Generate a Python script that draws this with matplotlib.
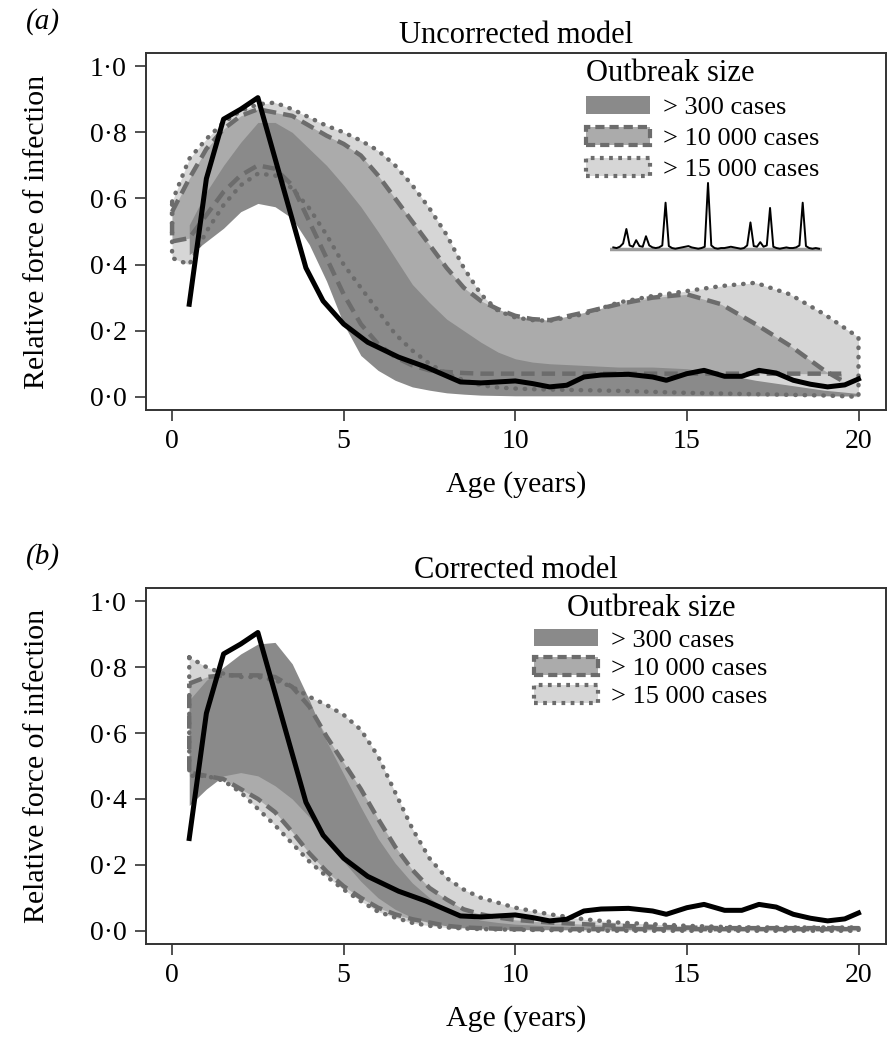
import matplotlib
matplotlib.use('Agg')
import matplotlib.pyplot as plt
from matplotlib.patches import Patch

plt.rcParams['font.family'] = ['Liberation Serif', 'DejaVu Serif']

# observed force of infection (same curve in both panels)
obs_age = [0.5, 1.0, 1.5, 2.0, 2.5, 3.9, 4.4, 5.0, 5.7, 6.6, 7.4, 8.4, 9.0, 10.0, 10.5, 11.0, 11.5,
           12.0, 12.5, 13.3, 14.0, 14.4, 15.0, 15.5, 16.1, 16.6, 17.1, 17.6, 18.1, 18.6, 19.1, 19.6, 20.0]
obs_foi = [0.28, 0.66, 0.84, 0.87, 0.905, 0.39, 0.29, 0.22, 0.165, 0.12, 0.09, 0.045, 0.042, 0.048, 0.04,
           0.03, 0.035, 0.06, 0.066, 0.068, 0.06, 0.05, 0.07, 0.08, 0.062, 0.062, 0.08, 0.072, 0.05, 0.038,
           0.03, 0.036, 0.054]

# (a) uncorrected model bands
a15_age = [0, 0.5, 1, 1.5, 2, 2.5, 3, 3.5, 4, 4.5, 5, 5.5, 6, 6.5, 7, 7.5, 8, 8.5, 9, 9.5, 10,
           10.5, 11, 12, 13, 14, 15, 16, 17, 18, 19, 20]
a15_hi = [0.59, 0.72, 0.78, 0.83, 0.865, 0.885, 0.89, 0.87, 0.845, 0.82, 0.80, 0.775, 0.745, 0.70,
          0.64, 0.57, 0.49, 0.39, 0.31, 0.26, 0.24, 0.232, 0.23, 0.25, 0.285, 0.305, 0.32, 0.335,
          0.345, 0.31, 0.25, 0.18]
a15_lo = [0.42, 0.40, 0.50, 0.58, 0.64, 0.675, 0.67, 0.63, 0.57, 0.49, 0.40, 0.33, 0.26, 0.19,
          0.14, 0.10, 0.07, 0.05, 0.035, 0.028, 0.025, 0.023, 0.022, 0.02, 0.018, 0.015, 0.012,
          0.01, 0.008, 0.006, 0.004, 0.0]

a10_age = [0, 0.5, 1, 1.5, 2, 2.5, 3, 3.5, 4, 4.5, 5, 5.5, 6, 6.5, 7, 7.5, 8, 8.5, 9, 9.5, 10,
           10.5, 11, 12, 13, 14, 15, 16, 17, 18, 19, 19.5]
a10_hi = [0.56, 0.66, 0.75, 0.81, 0.85, 0.87, 0.86, 0.85, 0.82, 0.79, 0.765, 0.73, 0.67, 0.60,
          0.53, 0.46, 0.39, 0.33, 0.29, 0.265, 0.245, 0.235, 0.232, 0.255, 0.28, 0.30, 0.31,
          0.28, 0.22, 0.155, 0.08, 0.05]
a10_lo = [0.47, 0.48, 0.55, 0.62, 0.67, 0.70, 0.69, 0.64, 0.53, 0.42, 0.31, 0.22, 0.16, 0.12,
          0.095, 0.08, 0.075, 0.072, 0.07, 0.07, 0.07, 0.07, 0.07, 0.07, 0.07, 0.07, 0.07, 0.07,
          0.07, 0.07, 0.07, 0.07]

a3_age = [0.5, 1, 1.5, 2, 2.5, 3, 3.5, 4, 4.5, 5, 5.5, 6, 6.5, 7, 7.5, 8, 8.5, 9, 9.5, 10,
          10.5, 11, 12, 13, 14, 15, 16, 17, 18, 19, 20]
a3_hi = [0.52, 0.62, 0.70, 0.77, 0.83, 0.83, 0.80, 0.75, 0.70, 0.64, 0.575, 0.50, 0.42, 0.34,
         0.285, 0.235, 0.20, 0.165, 0.135, 0.115, 0.105, 0.10, 0.095, 0.09, 0.09, 0.085, 0.07,
         0.05, 0.035, 0.02, 0.01]
a3_lo = [0.43, 0.47, 0.51, 0.56, 0.585, 0.575, 0.54, 0.46, 0.35, 0.22, 0.125, 0.08, 0.05, 0.03,
         0.02, 0.012, 0.008, 0.005, 0.004, 0.003, 0.003, 0.003, 0.003, 0.003, 0.003, 0.003,
         0.003, 0.003, 0.003, 0.003, 0.003]

# (b) corrected model bands
b_age = [0.5, 1, 1.5, 2, 2.5, 3, 3.5, 4, 4.5, 5, 5.5, 6, 6.5, 7, 7.5, 8, 8.5, 9, 9.5, 10,
         11, 12, 13, 14, 15, 16, 17, 18, 19, 20]
b15_hi = [0.83, 0.80, 0.78, 0.77, 0.77, 0.76, 0.74, 0.71, 0.685, 0.655, 0.61, 0.53, 0.42, 0.31,
          0.22, 0.16, 0.125, 0.10, 0.085, 0.07, 0.05, 0.035, 0.025, 0.02, 0.015, 0.012, 0.01,
          0.01, 0.01, 0.01]
b15_lo = [0.47, 0.47, 0.455, 0.42, 0.37, 0.32, 0.265, 0.21, 0.165, 0.125, 0.09, 0.058, 0.04,
          0.024, 0.015, 0.01, 0.007, 0.005, 0.004, 0.003, 0.002, 0.0, 0.0, 0.0, 0.0, 0.0, 0.0,
          0.0, 0.0, 0.0]
b10_hi = [0.75, 0.77, 0.775, 0.775, 0.775, 0.77, 0.74, 0.68, 0.59, 0.51, 0.43, 0.34, 0.255,
          0.185, 0.13, 0.095, 0.065, 0.05, 0.04, 0.033, 0.025, 0.02, 0.015, 0.012, 0.01, 0.008,
          0.008, 0.008, 0.008, 0.008]
b10_lo = [0.48, 0.47, 0.46, 0.43, 0.40, 0.36, 0.30, 0.235, 0.18, 0.135, 0.10, 0.07, 0.05,
          0.035, 0.025, 0.015, 0.01, 0.008, 0.006, 0.005, 0.005, 0.005, 0.005, 0.005, 0.005,
          0.005, 0.005, 0.005, 0.005, 0.005]
b3_hi = [0.70, 0.76, 0.80, 0.84, 0.87, 0.875, 0.81, 0.70, 0.575, 0.475, 0.375, 0.28, 0.205,
         0.145, 0.10, 0.065, 0.045, 0.032, 0.025, 0.02, 0.015, 0.012, 0.01, 0.01, 0.008, 0.008,
         0.008, 0.008, 0.008, 0.008]
b3_lo = [0.38, 0.43, 0.47, 0.48, 0.47, 0.44, 0.40, 0.345, 0.28, 0.21, 0.15, 0.10, 0.065, 0.04,
         0.025, 0.015, 0.01, 0.008, 0.006, 0.004, 0.004, 0.004, 0.004, 0.004, 0.004, 0.004,
         0.004, 0.004, 0.004, 0.004]

# epidemic trace shown as inset in (a)
trace = [0.02, 0.01, 0.03, 0.08, 0.30, 0.05, 0.03, 0.13, 0.04, 0.03, 0.19, 0.05, 0.02, 0.01,
         0.02, 0.05, 0.70, 0.04, 0.01, 0.0, 0.01, 0.02, 0.03, 0.04, 0.02, 0.01, 0.0, 0.01, 0.03,
         1.0, 0.05, 0.01, 0.0, 0.01, 0.01, 0.02, 0.03, 0.02, 0.01, 0.0, 0.01, 0.05, 0.40, 0.04,
         0.03, 0.10, 0.03, 0.05, 0.62, 0.03, 0.01, 0.0, 0.01, 0.02, 0.01, 0.01, 0.02, 0.05, 0.70,
         0.04, 0.01, 0.0, 0.01, 0.0]

yticks = [0.0, 0.2, 0.4, 0.6, 0.8, 1.0]
yticklabels = ['0·0', '0·2', '0·4', '0·6', '0·8', '1·0']
xticks = [0, 5, 10, 15, 20]
labels = ['> 300 cases', '> 10 000 cases', '> 15 000 cases']

c300, c10k, c15k = '#8a8a8a', '#ababab', '#d6d6d6'
edge = '#6c6c6c'
dash = (0, (3, 1.6))
dot = (0, (0.1, 2.0))


def outline(ax, x, hi, lo, ls, cap):
    xs = list(x) + list(x[::-1]) + [x[0]]
    ys = list(hi) + list(lo[::-1]) + [hi[0]]
    ax.plot(xs, ys, color=edge, lw=3.2, linestyle=ls, dash_capstyle=cap,
            solid_capstyle=cap, zorder=4)


def panel(ax, bands, title, leg_anchor, leg_align, leg_space):
    (x15, h15, l15), (x10, h10, l10), (x3, h3, l3) = bands
    ax.fill_between(x15, l15, h15, color=c15k, lw=0, zorder=1)
    ax.fill_between(x10, l10, h10, color=c10k, lw=0, zorder=2)
    ax.fill_between(x3, l3, h3, color=c300, lw=0, zorder=3)
    outline(ax, x15, h15, l15, dot, 'round')
    outline(ax, x10, h10, l10, dash, 'butt')
    ax.plot(obs_age, obs_foi, color='black', lw=3.6, zorder=6)

    ax.set_xlim(-0.76, 20.8)
    ax.set_ylim(-0.04, 1.04)
    ax.set_xticks(xticks)
    ax.set_yticks(yticks)
    ax.set_yticklabels(yticklabels)
    ax.tick_params(direction='out', length=8, width=1.2, labelsize=20, pad=6, color='#333333')
    for s in ax.spines.values():
        s.set_linewidth(1.4)
        s.set_color('#333333')
    ax.set_title(title, fontsize=22, pad=7)
    ax.set_xlabel('Age (years)', fontsize=21.5)
    ax.xaxis.set_label_coords(0.5, -0.172)
    ax.set_ylabel('Relative force of infection', fontsize=21.5)
    ax.yaxis.set_label_coords(-0.13, 0.5)

    handles = [
        Patch(facecolor=c300, edgecolor='none'),
        Patch(facecolor=c10k, edgecolor=edge, linestyle=(0, (2.2, 1.2)), lw=3),
        Patch(facecolor=c15k, edgecolor=edge, linestyle=(0, (0.9, 1.3)), lw=3),
    ]
    ax.legend(handles, labels, title='Outbreak size', loc='upper left', bbox_to_anchor=leg_anchor,
              frameon=False, fontsize=19, title_fontsize=22, alignment=leg_align, borderpad=0,
              handlelength=2.4, handleheight=0.65, handletextpad=0.5, labelspacing=leg_space,
              borderaxespad=0)


fig = plt.figure(figsize=(8.88, 10.5), dpi=100)
ax1 = fig.add_axes([0.1644, 0.6095, 0.8333, 0.34])
ax2 = fig.add_axes([0.1644, 0.101, 0.8333, 0.339])

panel(ax1, [(a15_age, a15_hi, a15_lo), (a10_age, a10_hi, a10_lo), (a3_age, a3_hi, a3_lo)],
      'Uncorrected model', (0.595, 0.982), 'left', 0.3)
panel(ax2, [(b_age, b15_hi, b15_lo), (b_age, b10_hi, b10_lo), (b_age, b3_hi, b3_lo)],
      'Corrected model', (0.525, 0.982), 'center', 0.2)

# inset epidemic trace
ins = fig.add_axes([0.687, 0.76, 0.239, 0.067])
ins.axhline(0, color='#9a9a9a', lw=2.5, zorder=1)
ins.plot(range(len(trace)), trace, color='black', lw=1.4, zorder=2)
ins.set_xlim(-1, len(trace))
ins.set_ylim(-0.05, 1.02)
ins.axis('off')

fig.text(0.029, 0.992, '(a)', style='italic', fontsize=21, ha='left', va='top')
fig.text(0.029, 0.483, '(b)', style='italic', fontsize=21, ha='left', va='top')

fig.savefig('out.png', dpi=100)
